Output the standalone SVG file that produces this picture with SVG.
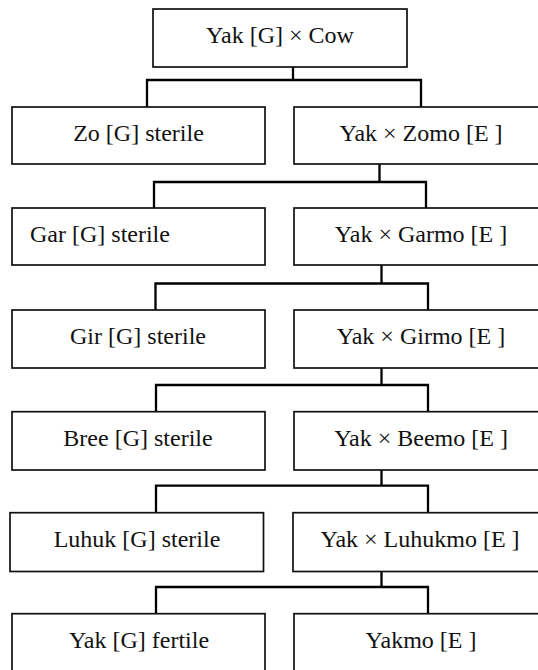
<svg xmlns="http://www.w3.org/2000/svg" width="538" height="670" viewBox="0 0 538 670">
<style>
.box{fill:#fff;stroke:#111;stroke-width:1.7}
.t{font-family:'Liberation Serif','Times New Roman',serif;font-size:24px;fill:#111;text-anchor:middle}
.conn{fill:none;stroke:#000;stroke-width:2.3}
</style>
<rect width="538" height="670" fill="#fff"/>
<g id="connectors">
<path class="conn" d="M293 67V80M147 107V80H421V107"/>
<path class="conn" d="M379.5 164V182M154 208V182H426V208"/>
<path class="conn" d="M381.5 265V283.5M155.5 310V283.5H428V310"/>
<path class="conn" d="M381.5 368V385M156 411.7V385H428V411.7"/>
<path class="conn" d="M381.5 470V485.7M156 512.7V485.7H428V512.7"/>
<path class="conn" d="M381.5 571.5V587M156 613.7V587H428V613.7"/>
</g>
<g id="n0"><rect class="box" x="153" y="9" width="254" height="58"/><text class="t" x="280" y="43">Yak [G] × Cow</text></g>
<g id="n1"><rect class="box" x="12" y="107" width="253" height="57"/><text class="t" x="138.5" y="141">Zo [G] sterile</text></g>
<g id="n2"><rect class="box" x="294" y="107" width="254" height="57"/><text class="t" x="421" y="141">Yak × Zomo [E ]</text></g>
<g id="n3"><rect class="box" x="12" y="208" width="253" height="57"/><text class="t" x="30" y="242" style="text-anchor:start">Gar [G] sterile</text></g>
<g id="n4"><rect class="box" x="294" y="208" width="254" height="57"/><text class="t" x="421" y="242">Yak × Garmo [E ]</text></g>
<g id="n5"><rect class="box" x="12" y="310" width="253" height="58"/><text class="t" x="138" y="344">Gir [G] sterile</text></g>
<g id="n6"><rect class="box" x="294" y="310" width="254" height="58"/><text class="t" x="421" y="344">Yak × Girmo [E ]</text></g>
<g id="n7"><rect class="box" x="12" y="411.7" width="253" height="58.3"/><text class="t" x="138" y="446">Bree [G] sterile</text></g>
<g id="n8"><rect class="box" x="294" y="411.7" width="254" height="58.3"/><text class="t" x="421" y="446">Yak × Beemo [E ]</text></g>
<g id="n9"><rect class="box" x="10" y="512.7" width="253.5" height="58.8"/><text class="t" x="137" y="547">Luhuk [G] sterile</text></g>
<g id="n10"><rect class="box" x="293" y="512.7" width="255" height="58.8"/><text class="t" x="420" y="547">Yak × Luhukmo [E ]</text></g>
<g id="n11"><rect class="box" x="12" y="613.7" width="253" height="62"/><text class="t" x="139" y="648">Yak [G] fertile</text></g>
<g id="n12"><rect class="box" x="294" y="613.7" width="254" height="62"/><text class="t" x="421" y="648">Yakmo [E ]</text></g>
</svg>
